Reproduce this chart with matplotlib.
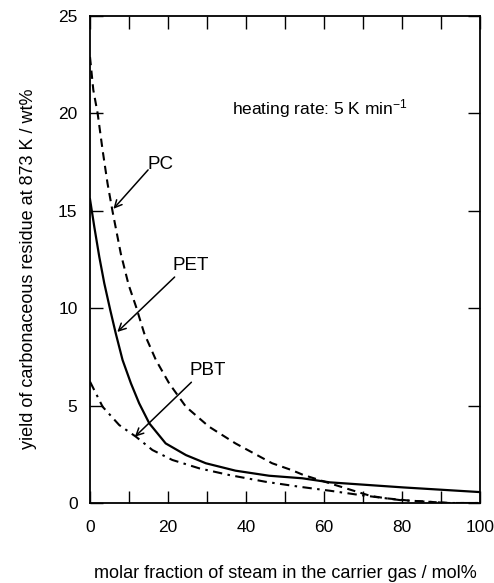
import matplotlib
matplotlib.use("Agg")
import matplotlib.pyplot as plt
from matplotlib.ticker import MultipleLocator

plt.rcParams['font.family'] = ['Liberation Sans', 'DejaVu Sans']
plt.rcParams['mathtext.fontset'] = 'custom'
plt.rcParams['mathtext.rm'] = 'Liberation Sans'
plt.rcParams['mathtext.it'] = 'Liberation Sans:italic'

# ---- data ----
pc_x = [0, 0.85, 1.96, 3.24, 4.5, 5.8, 7.9, 9.9, 11.8, 13.9, 16.9, 20.3, 24.6,
        30.5, 37.3, 46.7, 51.7, 54.7, 61.5, 68.4, 72.0, 76.0, 82.0, 92.0, 100.0]
pc_y = [22.9, 21.2, 20.0, 18.1, 16.4, 14.95, 12.8, 11.2, 10.08, 8.71, 7.34, 6.14, 4.94,
        3.92, 3.06, 2.04, 1.69, 1.44, 1.01, 0.58, 0.36, 0.24, 0.12, 0.0, 0.0]

pet_x = [0, 1.1, 2.38, 3.66, 5.2, 6.6, 8.35, 10.5, 12.6, 15.2, 19.4, 24.6, 29.7,
         37.3, 45.9, 54.4, 61.5, 80.3, 100.0]
pet_y = [15.6, 14.18, 12.64, 11.28, 9.9, 8.71, 7.34, 6.14, 5.12, 4.09, 3.06, 2.46, 2.04,
         1.66, 1.40, 1.27, 1.06, 0.80, 0.56]

pbt_x = [0, 3.24, 7.5, 11.8, 16.0, 21.1, 28.0, 35.6, 45.0, 53.5, 61.5, 69.2, 79.5,
         92.0, 100.0]
pbt_y = [6.23, 4.94, 4.0, 3.40, 2.72, 2.21, 1.78, 1.44, 1.09, 0.84, 0.63, 0.41, 0.15,
         0.0, 0.0]

labels = ["PC", "PET", "PBT"]
label_pos = [(14.8, 17.4), (21.2, 12.2), (25.6, 6.8)]
arrow_start = [(14.9, 17.1), (21.7, 11.6), (26.0, 6.2)]
arrow_tip = [(6.0, 15.1), (7.0, 8.78), (11.5, 3.4)]

xlabel = "molar fraction of steam in the carrier gas / mol%"
ylabel = "yield of carbonaceous residue at 873 K / wt%"
note = "heating rate: 5 K min$^{-1}$"

fig = plt.figure(figsize=(4.94, 5.83), dpi=100)
ax = fig.add_axes([90/494, 1-503/583, (480-90)/494, (503-16)/583])

ax.plot(pc_x, pc_y, color='black', lw=1.5, linestyle=(0, (4.0, 2.6)))
ax.plot(pet_x, pet_y, color='black', lw=1.6, linestyle='-')
ax.plot(pbt_x, pbt_y, color='black', lw=1.5, linestyle=(0, (4.5, 2.6, 1.2, 2.6)))

ax.set_xlim(0, 100)
ax.set_ylim(0, 25)
ax.xaxis.set_major_locator(MultipleLocator(20))
ax.xaxis.set_minor_locator(MultipleLocator(10))
ax.yaxis.set_major_locator(MultipleLocator(5))
ax.tick_params(which='both', direction='in', top=True, right=True,
               length=9, width=1.0, labelsize=12.5)
ax.tick_params(axis='x', which='major', pad=12)
ax.tick_params(axis='y', which='major', pad=9)
for s in ax.spines.values():
    s.set_linewidth(1.3)

for lab, (tx, ty), (sx, sy), (hx, hy) in zip(labels, label_pos, arrow_start, arrow_tip):
    ax.text(tx, ty, lab, fontsize=13.5, ha='left', va='center')
    ax.annotate('', xy=(hx, hy), xytext=(sx, sy),
                arrowprops=dict(arrowstyle='->', lw=1.1, color='black',
                                mutation_scale=13, shrinkA=0, shrinkB=0))

ax.text(36.3, 20.25, note, fontsize=12.5, ha='left', va='center')

fig.text(0.577, 0.009, xlabel, fontsize=13, ha='center', va='baseline')
fig.text(29/494, 1-269/583, ylabel, fontsize=13, ha='center', va='center',
         rotation=90)

fig.savefig("out.png", dpi=100)
